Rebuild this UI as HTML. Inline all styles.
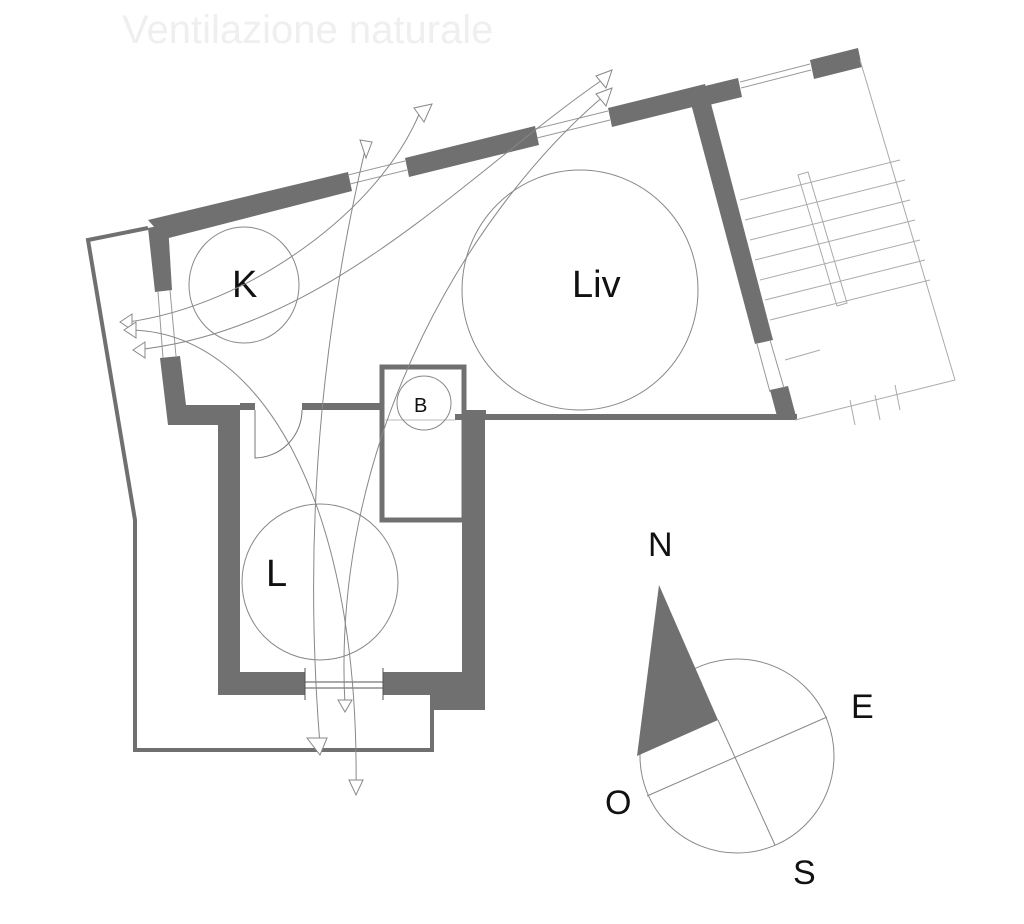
<!DOCTYPE html>
<html><head><meta charset="utf-8"><style>
html,body{margin:0;padding:0;background:#fff;}
svg{display:block;}
text{font-family:"Liberation Sans",sans-serif;}
</style></head><body>
<svg width="1024" height="924" viewBox="0 0 1024 924" xmlns="http://www.w3.org/2000/svg">
<rect width="1024" height="924" fill="#fff"/>
<text x="122" y="43" font-size="40" fill="#efefef">Ventilazione naturale</text>

<!-- outer thin outline -->
<polyline points="148,228 88,240 135,520 135,750 432,750 432,708" fill="none" stroke="#707070" stroke-width="4"/>

<!-- top wall segments -->
<g fill="#707070">
<polygon points="148,220 348,172 352,191 165,239"/>
<polygon points="405,158 535,126 539,145 409,177"/>
<polygon points="608,108 705,84 709,103 612,127"/>
<polygon points="705,86 738,78 742,97 709,105"/>
<polygon points="810,60 858,48 862,67 814,79"/>
</g>
<g stroke="#999" stroke-width="1" fill="none">
<line x1="348" y1="175" x2="405" y2="161"/><line x1="350" y1="184" x2="407" y2="170"/>
<line x1="535" y1="129" x2="608" y2="111"/><line x1="537" y1="138" x2="610" y2="120"/>
<line x1="740" y1="82" x2="810" y2="64"/><line x1="741" y1="88" x2="811" y2="70"/>
</g>
<!-- right wall of Liv -->
<polygon points="690,100 709,96 773,340 755,344" fill="#707070"/>
<polygon points="770,390 788,386 797,420 778,420" fill="#707070"/>
<line x1="757" y1="344" x2="770" y2="392" stroke="#999"/><line x1="770" y1="340" x2="784" y2="388" stroke="#999"/>
<!-- bottom of Liv -->
<rect x="455" y="414" width="342" height="6" fill="#707070"/>
<rect x="478" y="410" width="8" height="8" fill="#707070"/>

<!-- left wall K -->
<polygon points="148,228 168,224 172,290 155,292" fill="#707070"/>
<polygon points="160,358 180,356 186,405 240,405 240,425 168,425" fill="#707070"/>
<line x1="158" y1="292" x2="163" y2="358" stroke="#999"/><line x1="170" y1="290" x2="176" y2="356" stroke="#999"/>
<!-- L walls -->
<rect x="218" y="405" width="22" height="290" fill="#707070"/>
<rect x="218" y="672" width="87" height="23" fill="#707070"/>
<polygon points="383,672 462,672 462,410 485,410 485,710 430,710 430,695 383,695" fill="#707070"/>
<g stroke="#555" stroke-width="1">
<line x1="305" y1="682" x2="383" y2="682"/><line x1="305" y1="688" x2="383" y2="688"/>
<line x1="305" y1="668" x2="305" y2="700"/><line x1="383" y1="668" x2="383" y2="700"/>
</g>
<!-- K-L partition -->
<rect x="240" y="403" width="15" height="7" fill="#707070"/>
<rect x="302" y="403" width="80" height="7" fill="#707070"/>
<path d="M255,410 L255,458 A48,48 0 0 0 302,410" fill="none" stroke="#777" stroke-width="1"/>
<!-- B box -->
<rect x="382" y="367" width="82" height="153" fill="none" stroke="#707070" stroke-width="5"/>
<line x1="384" y1="420" x2="455" y2="420" stroke="#bbb"/>

<!-- stairs -->
<g stroke="#aaa" stroke-width="1" fill="none">
<line x1="740" y1="200" x2="900" y2="160"/>
<line x1="745" y1="220" x2="905" y2="180"/>
<line x1="750" y1="240" x2="910" y2="200"/>
<line x1="755" y1="260" x2="915" y2="220"/>
<line x1="760" y1="280" x2="920" y2="240"/>
<line x1="765" y1="300" x2="925" y2="260"/>
<line x1="770" y1="320" x2="930" y2="280"/>
<polygon points="798,175 808,172 847,303 837,306"/>
<line x1="860" y1="60" x2="955" y2="380"/>
<line x1="795" y1="420" x2="955" y2="380"/>
<line x1="785" y1="360" x2="820" y2="350"/>
<line x1="875" y1="395" x2="880" y2="420"/><line x1="895" y1="385" x2="900" y2="410"/><line x1="850" y1="400" x2="855" y2="425"/>
</g>

<!-- room circles -->
<g fill="none" stroke="#888" stroke-width="1">
<ellipse cx="244" cy="285" rx="55" ry="58"/>
<ellipse cx="580" cy="290" rx="118" ry="120"/>
<circle cx="424" cy="403" r="27"/>
<circle cx="320" cy="582" r="78"/>
</g>
<text x="232" y="297" font-size="38" fill="#111">K</text>
<text x="572" y="297" font-size="38" fill="#111">Liv</text>
<text x="414" y="412" font-size="20" fill="#111">B</text>
<text x="266" y="586" font-size="38" fill="#111">L</text>

<!-- airflow curves -->
<g fill="none" stroke="#888" stroke-width="1">
<path d="M128,322 C250,305 380,210 420,112"/>
<path d="M135,350 C330,330 470,170 605,78"/>
<path d="M365,150 C330,300 300,500 320,745"/>
<path d="M605,95 C480,200 330,430 345,705"/>
<path d="M128,330 C260,330 360,500 356,790"/>
</g>
<g fill="#fff" stroke="#888" stroke-width="1">
<polygon points="120,322 132,314 132,330"/>
<polygon points="124,330 136,322 136,338"/>
<polygon points="133,350 145,342 145,358"/>
<polygon points="432,104 414,108 424,122"/>
<polygon points="612,70 596,76 606,88"/>
<polygon points="612,88 596,94 606,106"/>
<polygon points="360,140 372,142 366,158"/>
<polygon points="307,738 327,738 320,755"/>
<polygon points="338,700 352,700 345,712"/>
<polygon points="349,780 363,780 356,795"/>
</g>

<!-- compass -->
<circle cx="737" cy="756" r="97" fill="none" stroke="#888" stroke-width="1"/>
<polygon points="659,585 718,720 637,756" fill="#707070"/>
<line x1="647" y1="796" x2="827" y2="717" stroke="#888"/>
<line x1="718" y1="720" x2="775" y2="845" stroke="#888"/>
<text x="648" y="556" font-size="34" fill="#111">N</text>
<text x="851" y="718" font-size="34" fill="#111">E</text>
<text x="605" y="814" font-size="34" fill="#111">O</text>
<text x="793" y="884" font-size="34" fill="#111">S</text>
</svg>
</body></html>
